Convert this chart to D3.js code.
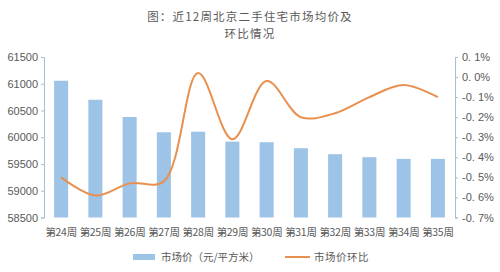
<!DOCTYPE html>
<html>
<head>
<meta charset="utf-8">
<script src="https://cdn.jsdelivr.net/npm/d3@7"></script>
<style>
body { margin: 0; background: #fff; }
text { font-family: "Noto Sans CJK SC", "Noto Sans", sans-serif; fill: #595959; }
</style>
</head>
<body>
<svg></svg>
<script>
var width = 500;
var height = 272;

var weeks = ['第24周', '第25周', '第26周', '第27周', '第28周', '第29周',
             '第30周', '第31周', '第32周', '第33周', '第34周', '第35周'];
var prices = [61056, 60701, 60379, 60093, 60104, 59918,
              59907, 59795, 59683, 59627, 59596, 59596];
var changes = [-0.50, -0.59, -0.53, -0.52, 0.02, -0.31,
               -0.02, -0.20, -0.18, -0.10, -0.04, -0.10];
var leftTicks = [58500, 59000, 59500, 60000, 60500, 61000, 61500];
var rightTicks = [-0.7, -0.6, -0.5, -0.4, -0.3, -0.2, -0.1, 0, 0.1];

var plotLeft = 44, plotRight = 455, plotTop = 57, plotBottom = 217.5;

var svg = d3.select('svg')
    .attr('width', width)
    .attr('height', height);

var xScale = d3.scaleBand()
    .domain(weeks)
    .range([plotLeft, plotRight])
    .paddingInner(0.59)
    .paddingOuter(0.295);

var yScale = d3.scaleLinear()
    .domain([58500, 61500])
    .range([plotBottom, plotTop]);

var y2Scale = d3.scaleLinear()
    .domain([-0.7, 0.1])
    .range([plotBottom, plotTop]);

// title
svg.append('text')
    .attr('x', 250).attr('y', 21)
    .style('font-size', '11.5px')
    .style('letter-spacing', '1.2px')
    .style('text-anchor', 'middle')
    .text('图：近12周北京二手住宅市场均价及');

svg.append('text')
    .attr('x', 250).attr('y', 38)
    .style('font-size', '11.5px')
    .style('letter-spacing', '1.2px')
    .style('text-anchor', 'middle')
    .text('环比情况');

// bars
svg.selectAll('rect.bar')
    .data(weeks)
    .enter()
    .append('rect')
        .attr('class', 'bar')
        .attr('x', d => xScale(d))
        .attr('width', xScale.bandwidth())
        .attr('y', (d, i) => yScale(prices[i]))
        .attr('height', (d, i) => plotBottom - yScale(prices[i]))
        .attr('fill', '#9dc3e6');

// line
var line = d3.line()
    .x((d, i) => xScale(weeks[i]) + xScale.bandwidth() / 2)
    .y(d => y2Scale(d))
    .curve(d3.curveCatmullRom.alpha(0.5));

svg.append('path')
    .datum(changes)
    .attr('d', line)
    .attr('fill', 'none')
    .attr('stroke', '#e8904f')
    .attr('stroke-width', 2);

// axes
var yAxis = d3.axisLeft(yScale)
    .tickValues(leftTicks)
    .tickSize(3)
    .tickPadding(3)
    .tickFormat(d3.format('d'));

var y2Axis = d3.axisRight(y2Scale)
    .tickValues(rightTicks)
    .tickSize(3)
    .tickPadding(4)
    .tickFormat(d => d3.format('.1f')(d).replace('−', '-').replace('.', '. ') + '%');

var gy = svg.append('g')
    .attr('transform', 'translate(' + plotLeft + ',0)')
    .call(yAxis);

var gy2 = svg.append('g')
    .attr('transform', 'translate(' + plotRight + ',0)')
    .call(y2Axis);

[gy, gy2].forEach(function(g){
    g.select('.domain').attr('stroke', '#a9bfd0');
    g.selectAll('.tick line').attr('stroke', '#a9bfd0');
    g.selectAll('.tick text')
        .style('font-size', '11px')
        .attr('fill', '#595959')
        .style('font-family', '"Liberation Sans", sans-serif');
});

// x labels
svg.selectAll('text.xlab')
    .data(weeks)
    .enter()
    .append('text')
        .attr('class', 'xlab')
        .attr('x', d => xScale(d) + xScale.bandwidth() / 2)
        .attr('y', 236)
        .style('font-size', '10.5px')
        .style('text-anchor', 'middle')
        .style('letter-spacing', '-0.3px')
        .text(d => d);

// legend
svg.append('rect')
    .attr('x', 133).attr('y', 254)
    .attr('width', 22).attr('height', 6)
    .attr('fill', '#9dc3e6');

svg.append('text')
    .attr('x', 161).attr('y', 261)
    .style('font-size', '10.5px')
    .text('市场价（元/平方米）');

svg.append('line')
    .attr('x1', 285).attr('x2', 310)
    .attr('y1', 257).attr('y2', 257)
    .attr('stroke', '#e8904f')
    .attr('stroke-width', 2);

svg.append('text')
    .attr('x', 314).attr('y', 261)
    .style('font-size', '10.5px')
    .style('letter-spacing', '0.5px')
    .text('市场价环比');
</script>
</body>
</html>
